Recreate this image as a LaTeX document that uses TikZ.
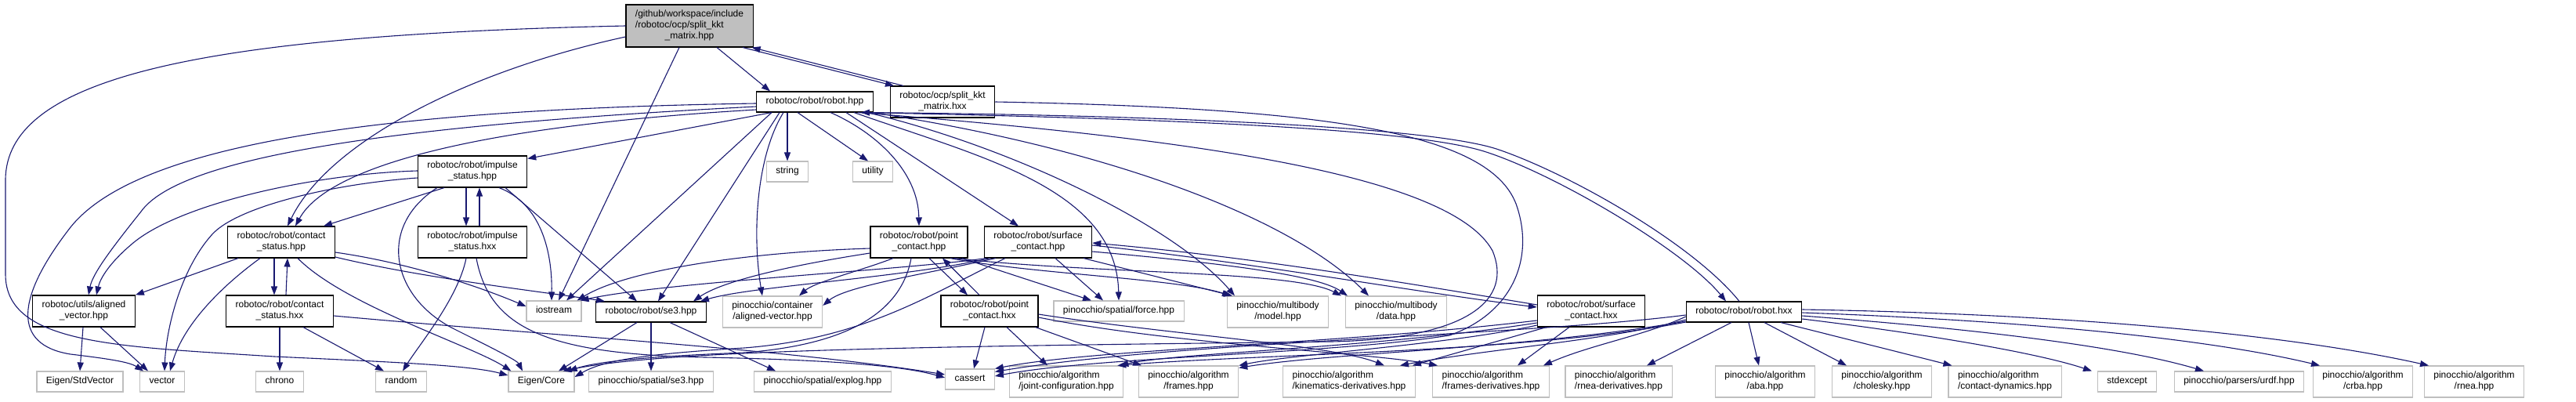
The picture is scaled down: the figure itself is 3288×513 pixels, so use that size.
\documentclass[tikz,border=0pt]{standalone}
\usepackage{fontspec}
\setmainfont{Liberation Sans}
\usetikzlibrary{arrows.meta}
\definecolor{edgeblue}{HTML}{191970}
\definecolor{sysgray}{HTML}{BFBFBF}
\definecolor{maingray}{HTML}{BFBFBF}
\newcommand\dxfont{\fontsize{12}{14}\selectfont}
\newcommand\oneline[1]{\begin{tabular}{@{}c@{}}#1\end{tabular}}
\newcommand\twoline[2]{\begin{tabular}{@{}l@{}}#1\\\multicolumn{1}{@{}c@{}}{#2}\end{tabular}}

\begin{document}
\begin{tikzpicture}[x=1pt, y=-1pt,
  box/.style={draw=black, fill=white, line width=1.1pt, inner xsep=12pt, inner ysep=6pt, font=\dxfont},
  proj/.style={box},
  sys/.style={box, draw=sysgray},
  main/.style={box, fill=maingray},
  arr/.style={-{Triangle[length=11pt,width=8pt]}, draw=edgeblue, line width=1.1pt}
]
\path[use as bounding box] (0,0) rectangle (3288,513);

\node[main] (root) at (880,33) {\begin{tabular}{@{}l@{}}/github/workspace/include\\/robotoc/ocp/split\_kkt\\\multicolumn{1}{@{}c@{}}{\_matrix.hpp}\end{tabular}};
\node[proj] (robothpp) at (1040,130) {\oneline{robotoc/robot/robot.hpp}};
\node[proj] (kkthxx) at (1203,130) {\twoline{robotoc/ocp/split\_kkt}{\_matrix.hxx}};
\node[sys] (string) at (1005,219) {\oneline{string}};
\node[sys] (utility) at (1114,219) {\oneline{utility}};
\node[proj] (imphpp) at (603,219) {\twoline{robotoc/robot/impulse}{\_status.hpp}};
\node[proj] (cshpp) at (359,309) {\twoline{robotoc/robot/contact}{\_status.hpp}};
\node[proj] (imphxx) at (603,309) {\twoline{robotoc/robot/impulse}{\_status.hxx}};
\node[proj] (pchpp) at (1173,309) {\twoline{robotoc/robot/point}{\_contact.hpp}};
\node[proj] (schpp) at (1325,309) {\twoline{robotoc/robot/surface}{\_contact.hpp}};
\node[proj] (alvec) at (107,397) {\twoline{robotoc/utils/aligned}{\_vector.hpp}};
\node[proj] (cshxx) at (357,397) {\twoline{robotoc/robot/contact}{\_status.hxx}};
\node[sys] (iostream) at (707,397) {\oneline{iostream}};
\node[proj] (se3) at (831,398) {\oneline{robotoc/robot/se3.hpp}};
\node[sys] (pinalvec) at (986,398) {\twoline{pinocchio/container}{/aligned-vector.hpp}};
\node[proj] (pchxx) at (1263,397) {\twoline{robotoc/robot/point}{\_contact.hxx}};
\node[sys] (force) at (1428,397) {\oneline{pinocchio/spatial/force.hpp}};
\node[sys] (model) at (1631,398) {\twoline{pinocchio/multibody}{/model.hpp}};
\node[sys] (data) at (1782,398) {\twoline{pinocchio/multibody}{/data.hpp}};
\node[proj] (schxx) at (2031,397) {\twoline{robotoc/robot/surface}{\_contact.hxx}};
\node[proj] (robothxx) at (2226,398) {\oneline{robotoc/robot/robot.hxx}};
\node[sys] (stdvec) at (102,487) {\oneline{Eigen/StdVector}};
\node[sys] (vector) at (207,487) {\oneline{vector}};
\node[sys] (chrono) at (357,487) {\oneline{chrono}};
\node[sys] (random) at (512,487) {\oneline{random}};
\node[sys] (eigcore) at (691,487) {\oneline{Eigen/Core}};
\node[sys] (pinse3) at (831,487) {\oneline{pinocchio/spatial/se3.hpp}};
\node[sys] (explog) at (1050,487) {\oneline{pinocchio/spatial/explog.hpp}};
\node[sys] (cassert) at (1238,484) {\oneline{cassert}};
\node[sys] (jointcfg) at (1361,487) {\twoline{pinocchio/algorithm}{/joint-configuration.hpp}};
\node[sys] (frames) at (1517,487) {\twoline{pinocchio/algorithm}{/frames.hpp}};
\node[sys] (kindrv) at (1722,487) {\twoline{pinocchio/algorithm}{/kinematics-derivatives.hpp}};
\node[sys] (frmdrv) at (1903,487) {\twoline{pinocchio/algorithm}{/frames-derivatives.hpp}};
\node[sys] (rneadrv) at (2066,487) {\twoline{pinocchio/algorithm}{/rnea-derivatives.hpp}};
\node[sys] (aba) at (2253,487) {\twoline{pinocchio/algorithm}{/aba.hpp}};
\node[sys] (cholesky) at (2402,487) {\twoline{pinocchio/algorithm}{/cholesky.hpp}};
\node[sys] (cdyn) at (2559,487) {\twoline{pinocchio/algorithm}{/contact-dynamics.hpp}};
\node[sys] (stdexc) at (2715,487) {\oneline{stdexcept}};
\node[sys] (urdf) at (2858,487) {\oneline{pinocchio/parsers/urdf.hpp}};
\node[sys] (crba) at (3016,487) {\twoline{pinocchio/algorithm}{/crba.hpp}};
\node[sys] (rnea) at (3158,487) {\twoline{pinocchio/algorithm}{/rnea.hpp}};

\draw[arr] (root.west) .. controls (250,45) and (7,100) .. (7,230) -- (7,350) .. controls (7,440) and (150,442) .. (350,455) .. controls (500,462) and (600,466) .. ([yshift=8]eigcore.west);
\draw[arr] ([yshift=-14]root.west) .. controls (600,90) and (420,180) .. ([xshift=8]cshpp.north);
\draw[arr] ([xshift=-13]root.south) -- ([xshift=6]iostream.north);
\draw[arr] ([xshift=35]root.south) -- ([xshift=-57]robothpp.north);
\draw[arr] ([xshift=68]root.south) -- ([xshift=-62]kkthxx.north);
\draw[arr] ([xshift=-50]kkthxx.north) -- ([xshift=-2]root.south east);
\draw[arr] (kkthxx.east) .. controls (1700,138) and (1900,170) .. (1935,260) .. controls (1960,330) and (1930,400) .. (1850,428) .. controls (1700,452) and (1400,455) .. ([yshift=4]cassert.east);

\draw[arr] ([xshift=-35]robothpp.south) -- (string.north);
\draw[arr] ([xshift=-22]robothpp.south) -- ([xshift=-6]utility.north);
\draw[arr] ([xshift=-55]robothpp.south) -- ([xshift=16]iostream.north);
\draw[arr] ([xshift=-45]robothpp.south) -- ([xshift=9]se3.north);
\draw[arr] ([xshift=-40]robothpp.south) .. controls (965,200) and (960,300) .. ([xshift=-13]pinalvec.north);
\draw[arr] ([xshift=20]robothpp.south) .. controls (1120,170) and (1172,220) .. (pchpp.north);
\draw[arr] ([xshift=40]robothpp.south) -- ([xshift=-25]schpp.north);
\draw[arr] ([xshift=50]robothpp.south) .. controls (1250,200) and (1425,240) .. (force.north);
\draw[arr] ([xshift=-8]robothpp.south east) .. controls (1300,190) and (1500,290) .. ([xshift=-55]model.north);
\draw[arr] ([xshift=-2]robothpp.south east) .. controls (1420,190) and (1650,280) .. ([xshift=-35]data.north);
\draw[arr] ([xshift=-12]robothpp.south east) .. controls (1400,150) and (1800,160) .. (1900,195) .. controls (1990,225) and (2150,320) .. ([xshift=-23]robothxx.north);
\draw[arr] ([xshift=-6]robothxx.north) .. controls (2160,310) and (2000,220) .. (1910,190) .. controls (1810,158) and (1400,146) .. ([xshift=-16]robothpp.south east);
\draw[arr] ([xshift=-20]robothpp.south east) .. controls (1500,175) and (1850,220) .. (1905,320) .. controls (1930,380) and (1880,432) .. (1700,436) .. controls (1200,442) and (850,446) .. ([xshift=-15]eigcore.north east);
\draw[arr] ([yshift=-2]robothpp.west) .. controls (450,140) and (170,190) .. (90,290) .. controls (20,380) and (15,440) .. (90,452) .. controls (140,458) and (165,462) .. ([xshift=5]vector.north west);
\draw[arr] ([yshift=-6]robothpp.west) .. controls (500,160) and (230,200) .. (180,270) .. controls (140,320) and (118,350) .. ([xshift=6]alvec.north);
\draw[arr] ([yshift=-10]robothpp.west) .. controls (620,160) and (420,210) .. ([xshift=18]cshpp.north);
\draw[arr] ([xshift=20]robothpp.south west) -- ([yshift=-4]imphpp.north east);

\draw[arr] ([xshift=-8]imphpp.south) -- ([xshift=-8]imphxx.north);
\draw[arr] ([xshift=9]imphxx.north) -- ([xshift=9]imphpp.south);
\draw[arr] ([yshift=1]imphpp.west) .. controls (400,222) and (230,260) .. (170,310) .. controls (140,335) and (128,355) .. ([xshift=16]alvec.north);
\draw[arr] ([yshift=-8]imphpp.west) .. controls (420,235) and (300,265) .. (270,300) .. controls (230,345) and (212,420) .. ([xshift=3]vector.north);
\draw[arr] ([xshift=-36]imphpp.south) -- ([xshift=54]cshpp.north);
\draw[arr] ([xshift=34]imphpp.south) .. controls (690,260) and (705,320) .. ([xshift=-3]iostream.north);
\draw[arr] ([xshift=42]imphpp.south) -- ([xshift=-18]se3.north);
\draw[arr] ([xshift=-45]imphpp.south) .. controls (480,290) and (500,380) .. (580,420) .. controls (630,445) and (660,460) .. ([xshift=-24]eigcore.north);

\draw[arr] ([xshift=-9]cshpp.south) -- ([xshift=-7]cshxx.north);
\draw[arr] ([xshift=8]cshxx.north) -- ([xshift=8]cshpp.south);
\draw[arr] ([xshift=-55]cshpp.south) -- (alvec.north east);
\draw[arr] ([xshift=-27]cshpp.south) .. controls (290,360) and (235,410) .. ([xshift=10]vector.north);
\draw[arr] ([yshift=-13]cshpp.east) .. controls (520,335) and (610,365) .. ([yshift=6]iostream.west);
\draw[arr] ([yshift=-19]cshpp.east) .. controls (540,355) and (690,372) .. ([xshift=12]se3.north west);
\draw[arr] ([xshift=21]cshpp.south) .. controls (440,390) and (600,440) .. ([xshift=4]eigcore.north west);

\draw[arr] (cshxx.south) -- (chrono.north);
\draw[arr] ([xshift=30]cshxx.south) -- ([xshift=-22]random.north);
\draw[arr] ([yshift=-6]cshxx.east) .. controls (700,428) and (1000,445) .. ([yshift=6]cassert.west);
\draw[arr] ([xshift=-8]imphxx.south) .. controls (585,380) and (535,440) .. ([xshift=2]random.north);
\draw[arr] ([xshift=5]imphxx.south) .. controls (625,420) and (700,452) .. (900,456) .. controls (1050,459) and (1150,466) .. ([yshift=2]cassert.west);

\draw[arr] ([xshift=-1]alvec.south) -- (stdvec.north);
\draw[arr] ([xshift=21]alvec.south) -- ([xshift=-18]vector.north);

\draw[arr] ([xshift=-18]se3.south) -- ([xshift=22]eigcore.north);
\draw[arr] (se3.south) -- (pinse3.north);
\draw[arr] ([xshift=24]se3.south) -- ([xshift=-60]explog.north);

\draw[arr] ([yshift=-8]pchpp.west) .. controls (950,322) and (800,345) .. ([xshift=-6]iostream.north east);
\draw[arr] ([yshift=-14]pchpp.west) .. controls (1000,340) and (920,360) .. ([xshift=-17]se3.north east);
\draw[arr] ([xshift=-33]pchpp.south) .. controls (1100,345) and (1040,360) .. ([xshift=34]pinalvec.north);
\draw[arr] ([xshift=-10]pchpp.south) .. controls (1150,400) and (1080,440) .. (950,450) .. controls (820,455) and (760,462) .. ([xshift=-8]eigcore.north east);
\draw[arr] ([xshift=13]pchpp.south) -- ([xshift=-28]pchxx.north);
\draw[arr] ([xshift=-13]pchxx.north) -- ([xshift=30]pchpp.south);
\draw[arr] ([xshift=55]pchpp.south) -- ([xshift=-35]force.north);
\draw[arr] ([xshift=40]pchpp.south) .. controls (1320,350) and (1500,355) .. ([xshift=-60]model.north);
\draw[arr] ([xshift=45]pchpp.south) .. controls (1400,350) and (1650,345) .. ([xshift=-70]data.north);

\draw[arr] ([xshift=3]schpp.south west) .. controls (1150,345) and (850,360) .. ([xshift=-2]iostream.north east);
\draw[arr] ([xshift=8]schpp.south west) .. controls (1150,355) and (960,365) .. ([xshift=-8]se3.north east);
\draw[arr] ([xshift=15]schpp.south west) .. controls (1180,350) and (1080,365) .. ([yshift=8]pinalvec.east);
\draw[arr] ([xshift=-42]schpp.south) .. controls (1180,380) and (1100,432) .. (950,444) .. controls (820,452) and (770,460) .. ([yshift=6]eigcore.east);
\draw[arr] ([yshift=-4]schpp.east) .. controls (1600,335) and (1800,372) .. ([yshift=5]schxx.west);
\draw[arr] ([yshift=8]schxx.west) .. controls (1800,362) and (1600,328) .. ([yshift=-1]schpp.east);
\draw[arr] ([xshift=22]schpp.south) -- ([xshift=-20]force.north);
\draw[arr] ([xshift=58]schpp.south) -- ([xshift=-58]model.north);
\draw[arr] ([yshift=-12]schpp.east) .. controls (1550,335) and (1680,350) .. ([xshift=-62]data.north);

\draw[arr] ([xshift=-6]pchxx.south) -- ([xshift=5]cassert.north);
\draw[arr] ([xshift=22]pchxx.south) -- ([xshift=-24]jointcfg.north);
\draw[arr] ([xshift=-4]pchxx.south east) -- ([xshift=-60]frames.north);
\draw[arr] ([yshift=-4]pchxx.east) .. controls (1500,428) and (1700,440) .. ([xshift=45]kindrv.north);
\draw[arr] ([yshift=-8]pchxx.east) .. controls (1500,440) and (1750,450) .. ([xshift=-68]frmdrv.north);

\draw[arr] ([yshift=-12]schxx.west) .. controls (1700,440) and (1400,445) .. (cassert.north east);
\draw[arr] ([yshift=-15]schxx.west) .. controls (1750,445) and (1500,450) .. ([xshift=-5]jointcfg.north east);
\draw[arr] ([yshift=-18]schxx.west) .. controls (1850,440) and (1650,452) .. (frames.north east);
\draw[arr] ([xshift=12]schxx.south west) -- ([xshift=-4]kindrv.north east);
\draw[arr] ([xshift=-28]schxx.south) -- ([xshift=34]frmdrv.north);

\draw[arr] ([xshift=6]robothxx.south) -- ([xshift=-8]aba.north);
\draw[arr] ([xshift=26]robothxx.south) -- ([xshift=-45]cholesky.north);
\draw[arr] ([xshift=47]robothxx.south) -- ([xshift=5]cdyn.north west);
\draw[arr] ([yshift=-9]robothxx.east) .. controls (2450,425) and (2600,450) .. ([xshift=-45]stdexc.north);
\draw[arr] ([yshift=-5]robothxx.east) .. controls (2500,418) and (2700,440) .. ([xshift=-45]urdf.north);
\draw[arr] ([yshift=-1]robothxx.east) .. controls (2550,408) and (2800,428) .. ([xshift=-55]crba.north);
\draw[arr] ([yshift=3]robothxx.east) .. controls (2600,400) and (2900,422) .. ([xshift=-58]rnea.north);
\draw[arr] ([xshift=-16]robothxx.south) -- ([xshift=36]rneadrv.north);
\draw[arr] ([yshift=-6]robothxx.west) .. controls (2100,428) and (2030,440) .. ([xshift=-8]frmdrv.north east);
\draw[arr] ([yshift=-10]robothxx.west) .. controls (2050,435) and (1900,445) .. ([xshift=-20]kindrv.north east);
\draw[arr] ([yshift=-12]robothxx.west) .. controls (1950,445) and (1700,450) .. ([yshift=-3]frames.north east);
\draw[arr] ([yshift=-13]robothxx.west) .. controls (1950,450) and (1600,452) .. ([xshift=-8]jointcfg.north east);
\draw[arr] ([yshift=-4]robothxx.west) .. controls (1950,428) and (1500,436) .. ([yshift=-4]cassert.north east);
\end{tikzpicture}
\end{document}
